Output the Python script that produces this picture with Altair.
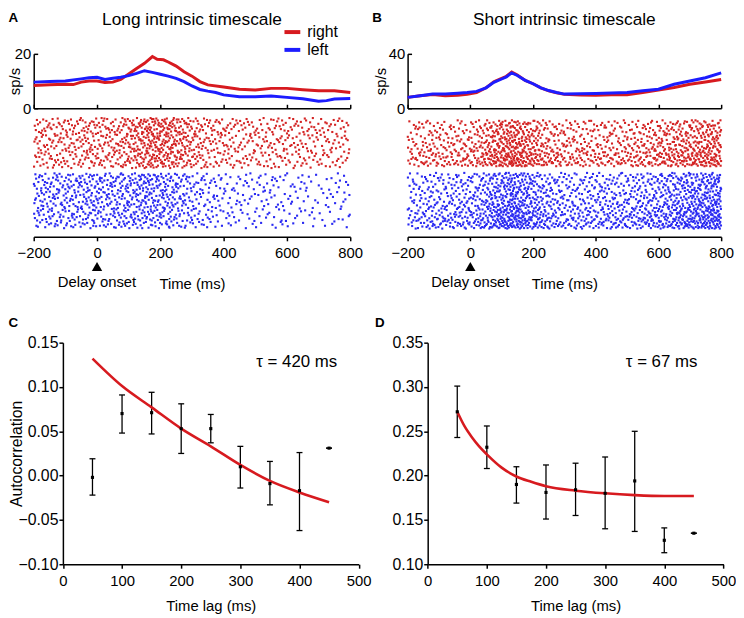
import altair as alt
import pandas as pd
import numpy as np

RED = "#d71a1f"
BLUE = "#1c1cff"
DOT_RED = "#d42424"
DOT_BLUE = "#2a2af2"
FONT = "Liberation Sans"

# ---------------- Panel A: firing rates (sp/s) ----------------
tA_right = [-200, -150, -100, -75, -50, -25, 0, 25, 50, 75, 100, 125, 150, 175, 190, 210, 225,
            250, 275, 300, 325, 350, 400, 450, 500, 550, 600, 650, 700, 750, 800]
rA_right = [8.4, 8.6, 8.8, 8.7, 9.6, 10.0, 10.0, 9.5, 9.6, 10.6, 12.6, 14.6, 16.5, 19.0, 18.0, 17.8, 17.0,
            15.5, 13.4, 11.8, 9.8, 8.6, 7.8, 7.0, 6.7, 7.3, 7.3, 6.8, 6.4, 6.4, 5.8]
tA_left = [-200, -150, -100, -50, -25, 0, 25, 50, 75, 100, 125, 150, 175, 200, 225, 250, 275, 300,
           325, 350, 375, 400, 450, 500, 550, 600, 650, 700, 725, 750, 800]
rA_left = [9.6, 9.8, 10.0, 10.8, 11.2, 11.4, 10.6, 11.0, 11.4, 12.0, 12.8, 13.8, 13.2, 12.5, 11.8, 11.0, 9.8, 8.2,
           6.9, 6.3, 5.8, 4.9, 4.2, 4.2, 4.5, 4.0, 3.5, 2.6, 2.8, 3.4, 3.6]

# ---------------- Panel B: firing rates (sp/s) ----------------
tB = [-200, -160, -120, -80, -40, -10, 20, 50, 75, 100, 115, 132, 150, 175, 200, 225, 250, 275, 300,
      350, 400, 450, 500, 550, 600, 650, 700, 750, 800]
rB_right = [8.0, 9.2, 10.0, 9.2, 9.6, 10.2, 11.6, 15.0, 19.5, 22.0, 23.5, 26.6, 24.5, 20.5, 18.0, 15.0, 12.8, 11.4, 10.2,
            9.8, 9.6, 9.9, 10.0, 11.5, 13.3, 15.2, 17.6, 19.3, 21.2]
rB_left = [8.0, 9.2, 10.4, 10.4, 11.0, 11.6, 12.4, 15.0, 19.0, 21.5, 23.0, 26.0, 24.1, 20.5, 18.0, 15.0, 13.0, 11.6, 10.4,
           10.6, 10.8, 11.2, 11.6, 12.8, 14.0, 17.6, 20.0, 22.4, 26.0]

# ---------------- raster: trials per condition and relative spike density across trials ----------------
trialsA = {"right": 105, "left": 115}
trialsB = {"right": 90, "left": 109}
weightA = {"right": [1.0, 1.05, 1.0, 1.0, 0.95, 0.95], "left": [1.1, 1.05, 1.0, 1.0, 0.95, 0.85]}
weightB = {"right": [0.75, 0.8, 0.85, 1.0, 1.25, 1.45], "left": [0.8, 0.8, 0.85, 1.0, 1.25, 1.35]}
# row layout (in trial units): blank rows above, between and below the two blocks
rowsA = {"top": 6, "gap": 10, "bottom": 17}
rowsB = {"top": 10, "gap": 12, "bottom": 15}

# ---------------- Panel C / D: autocorrelation ----------------
lags = [50, 100, 150, 200, 250, 300, 350, 400, 450]
acC = [-0.002, 0.070, 0.071, 0.053, 0.053, 0.010, -0.009, -0.017, 0.031]
loC = [-0.022, 0.048, 0.047, 0.025, 0.037, -0.014, -0.033, -0.062, 0.031]
hiC = [0.019, 0.091, 0.094, 0.081, 0.069, 0.033, 0.016, 0.026, 0.031]
fitC_t = [50, 100, 150, 200, 250, 300, 350, 400, 450]
fitC = [0.132, 0.101, 0.077, 0.053, 0.033, 0.012, -0.006, -0.019, -0.030]

acD = [0.272, 0.232, 0.190, 0.181, 0.184, 0.180, 0.194, 0.127, 0.135]
loD = [0.243, 0.208, 0.169, 0.151, 0.155, 0.140, 0.137, 0.113, 0.135]
hiD = [0.301, 0.256, 0.210, 0.212, 0.214, 0.221, 0.250, 0.141, 0.135]
fitD_t = [50, 62, 75, 87, 100, 125, 150, 175, 200, 250, 300, 350, 400, 450]
fitD = [0.272, 0.256, 0.243, 0.233, 0.224, 0.209, 0.199, 0.193, 0.188, 0.183, 0.180, 0.178, 0.177, 0.177]


def radical_inverse(i, b):
    f, r = 1.0, 0.0
    while i > 0:
        f /= b
        r += f * (i % b)
        i //= b
    return r


def raster_rows(t, r, n_trials, weights, row0, start):
    """Spike raster whose density follows the rate curve (deterministic low-discrepancy placement)."""
    tg = np.linspace(-200, 800, 2001)
    rg = np.interp(tg, t, r)
    cum = np.concatenate([[0.0], np.cumsum((rg[1:] + rg[:-1]) / 2 * np.diff(tg))]) / 1000.0
    pg = np.linspace(0, 1, 401)
    wg = np.interp(pg, np.linspace(0, 1, len(weights)), weights)
    cw = np.concatenate([[0.0], np.cumsum((wg[1:] + wg[:-1]) / 2 * np.diff(pg))])
    n = int(round(n_trials * cum[-1] * cw[-1]))
    ts, rows = [], []
    for i in range(start, start + n):
        u = radical_inverse(i, 2)
        v = radical_inverse(i, 3)
        ts.append(float(np.interp(u * cum[-1], cum, tg)))
        rows.append(row0 + float(np.floor(np.interp(v * cw[-1], cw, pg) * n_trials)))
    return pd.DataFrame({"t": ts, "row": rows})


XS = alt.Scale(domain=[-200, 800], nice=False, zero=False)
TICKS_T = list(range(-200, 801, 200))
TOP_Y = -42.7


def rate_chart(df, ymax, yvals, label_expr, width, height, title, letter, letter_x, sp_x, with_legend):
    if with_legend:
        color = alt.Color("cond:N", scale=alt.Scale(domain=["right", "left"], range=[RED, BLUE]),
                          legend=alt.Legend(orient="none", legendX=251.5, legendY=-32, title=None,
                                            symbolType="stroke", symbolStrokeWidth=4, symbolSize=256,
                                            labelFontSize=16, labelFont=FONT, padding=0, rowPadding=0,
                                            labelOffset=5, labelColor="black"))
    else:
        color = alt.Color("cond:N", scale=alt.Scale(domain=["right", "left"], range=[RED, BLUE]), legend=None)
    xaxis = alt.Axis(orient="top", offset=-height, values=TICKS_T, labels=False, ticks=True, tickSize=4,
                     domain=True, title=None, grid=False)
    yaxis = alt.Axis(orient="left", values=yvals, ticks=False, tickSize=0, labelPadding=3, labelExpr=label_expr,
                     title="sp/s", titleX=sp_x, titleY=height / 2, titleAngle=270, titleBaseline="alphabetic",
                     titleAlign="center", grid=False)
    ysc = alt.Scale(domain=[0, ymax], nice=False, zero=True)
    base = alt.Chart(df)
    red = base.transform_filter("datum.cond == 'right'").mark_line(strokeWidth=3).encode(
        x=alt.X("t:Q", scale=XS, axis=xaxis), y=alt.Y("rate:Q", scale=ysc, axis=yaxis), color=color)
    blue = base.transform_filter("datum.cond == 'left'").mark_line(strokeWidth=3).encode(
        x=alt.X("t:Q", scale=XS, axis=xaxis), y=alt.Y("rate:Q", scale=ysc, axis=yaxis), color=color)
    lines = alt.layer(red, blue)
    ticks = base.mark_point(opacity=0).encode(
        y=alt.Y("rate:Q", scale=ysc,
                axis=alt.Axis(orient="right", offset=-width, values=yvals, labels=False, domain=False,
                              ticks=True, tickSize=4, title=None, grid=False)))
    ttl = alt.Chart(pd.DataFrame({"s": [title]})).mark_text(
        fontSize=17.5, font=FONT, align="center", baseline="top", color="black").encode(
        text="s:N", x=alt.value(width / 2), y=alt.value(TOP_Y))
    let = alt.Chart(pd.DataFrame({"s": [letter]})).mark_text(
        fontSize=13.5, font=FONT, fontWeight="bold", align="left", baseline="top", color="black").encode(
        text="s:N", x=alt.value(letter_x), y=alt.value(TOP_Y))
    return alt.layer(lines, ticks, ttl, let).resolve_scale(y="independent").properties(width=width, height=height)


def raster_chart(dfr, dfb, n_rows, width, height):
    ys = alt.Scale(domain=[0, n_rows], reverse=True, nice=False, zero=False)
    xaxis = alt.Axis(values=TICKS_T, tickSize=4, labelPadding=5, title="Time (ms)", titlePadding=16,
                     labelFlush=False, labelOverlap=False, grid=False, format="d")
    red = alt.Chart(dfr).mark_square(size=4.5, color=DOT_RED, opacity=1).encode(
        x=alt.X("t:Q", scale=XS, axis=xaxis), y=alt.Y("row:Q", scale=ys, axis=None))
    blue = alt.Chart(dfb).mark_square(size=4.5, color=DOT_BLUE, opacity=1).encode(
        x=alt.X("t:Q", scale=XS, axis=xaxis), y=alt.Y("row:Q", scale=ys, axis=None))
    onset = pd.DataFrame({"t": [0], "s": ["Delay onset"]})
    tri = alt.Chart(onset).mark_point(shape="triangle-up", filled=True, size=110, color="black", opacity=1).encode(
        x=alt.X("t:Q", scale=XS, axis=xaxis), y=alt.value(153))
    txt = alt.Chart(onset).mark_text(fontSize=15, font=FONT, align="center", baseline="middle", color="black").encode(
        x=alt.X("t:Q", scale=XS, axis=xaxis), y=alt.value(168.7), text="s:N")
    return alt.layer(red, blue, tri, txt).properties(width=width, height=height)


def ac_chart(ac, lo, hi, ft, fv, ymin, ymax, ytitle, tau, tau_x, tau_y, letter, letter_x,
             cell_w, x0, plot_w, height):
    df = pd.DataFrame({"lag": lags, "ac": ac, "lo": lo, "hi": hi})
    caps = pd.DataFrame({"lag": lags + lags, "v": lo + hi})
    xs = alt.Scale(domain=[0, 500], nice=False, zero=False, range=[x0, x0 + plot_w])
    ys = alt.Scale(domain=[ymin, ymax], nice=False, zero=False)
    xaxis = alt.Axis(values=list(range(0, 501, 100)), tickSize=4, labelPadding=5, title="Time lag (ms)",
                     titlePadding=11, labelFlush=False, labelOverlap=False, grid=False)
    yvals = [round(ymin + 0.05 * k, 2) for k in range(6)]
    common = dict(values=yvals, format=".2f", tickSize=4, labelPadding=1, labelFontSize=16,
                  labelFlush=False, labelOverlap=False, grid=False, offset=-x0)
    if ytitle:
        yaxis = alt.Axis(title=ytitle, titleX=-42, titleY=height / 2, titleAngle=270, titleFontSize=16,
                         titleBaseline="alphabetic", titleAlign="center", **common)
    else:
        yaxis = alt.Axis(title=None, **common)
    bars = alt.Chart(df).mark_rule(color="black", strokeWidth=1.3).encode(
        x=alt.X("lag:Q", scale=xs, axis=xaxis), y=alt.Y("lo:Q", scale=ys, axis=yaxis), y2="hi:Q")
    capm = alt.Chart(caps).mark_tick(orient="horizontal", size=6, thickness=1.3, color="black", opacity=1).encode(
        x=alt.X("lag:Q", scale=xs, axis=xaxis), y=alt.Y("v:Q", scale=ys, axis=yaxis))
    fit = alt.Chart(pd.DataFrame({"lag": ft, "v": fv})).mark_line(
        color=RED, strokeWidth=2.6, interpolate="monotone").encode(
        x=alt.X("lag:Q", scale=xs, axis=xaxis), y=alt.Y("v:Q", scale=ys, axis=yaxis))
    pts = alt.Chart(df).mark_square(size=10, color="black", opacity=1).encode(
        x=alt.X("lag:Q", scale=xs, axis=xaxis), y=alt.Y("ac:Q", scale=ys, axis=yaxis))
    tau_t = alt.Chart(pd.DataFrame({"lag": [tau_x], "v": [tau_y], "s": [tau]})).mark_text(
        fontSize=17, font=FONT, align="left", baseline="middle", color="black").encode(
        x=alt.X("lag:Q", scale=xs, axis=xaxis), y=alt.Y("v:Q", scale=ys, axis=yaxis), text="s:N")
    let = alt.Chart(pd.DataFrame({"s": [letter]})).mark_text(
        fontSize=13.5, font=FONT, fontWeight="bold", align="left", baseline="top", color="black").encode(
        text="s:N", x=alt.value(letter_x), y=alt.value(-27))
    return alt.layer(bars, capm, fit, pts, tau_t, let).properties(width=cell_w, height=height)


# ---------- build data frames ----------
dfA = pd.concat([pd.DataFrame({"t": tA_right, "rate": rA_right, "cond": "right"}),
                 pd.DataFrame({"t": tA_left, "rate": rA_left, "cond": "left"})], ignore_index=True)
dfB = pd.concat([pd.DataFrame({"t": tB, "rate": rB_right, "cond": "right"}),
                 pd.DataFrame({"t": tB, "rate": rB_left, "cond": "left"})], ignore_index=True)

nA = rowsA["top"] + trialsA["right"] + rowsA["gap"] + trialsA["left"] + rowsA["bottom"]
nB = rowsB["top"] + trialsB["right"] + rowsB["gap"] + trialsB["left"] + rowsB["bottom"]
rasA_r = raster_rows(tA_right, rA_right, trialsA["right"], weightA["right"], rowsA["top"], 1)
rasA_l = raster_rows(tA_left, rA_left, trialsA["left"], weightA["left"],
                     rowsA["top"] + trialsA["right"] + rowsA["gap"], 3001)
rasB_r = raster_rows(tB, rB_right, trialsB["right"], weightB["right"], rowsB["top"], 6001)
rasB_l = raster_rows(tB, rB_left, trialsB["left"], weightB["left"],
                     rowsB["top"] + trialsB["right"] + rowsB["gap"], 9001)

WA, WB, HR, HS, HC = 320, 317, 55, 123, 224
rateA = rate_chart(dfA, 20, [0, 20], "datum.label", WA, HR, "Long intrinsic timescale", "A", -25.5, -14, True)
rateB = rate_chart(dfB, 40, [0, 20, 40], "datum.value == 20 ? '' : datum.label", WB, HR,
                   "Short intrinsic timescale", "B", -35.7, -22.5, False)
rasterA = raster_chart(rasA_r, rasA_l, nA, WA, HS)
rasterB = raster_chart(rasB_r, rasB_l, nB, WB, HS)


def spacer(w, h):
    return alt.Chart(pd.DataFrame({"s": [0]})).mark_point(opacity=0).encode(
        x=alt.value(w / 2), y=alt.value(h / 2)).properties(width=w, height=h)


C = ac_chart(acC, loC, hiC, fitC_t, fitC, -0.10, 0.15, "Autocorrelation", "τ = 420 ms", 327, 0.1277,
             "C", -25.5, WA, 29.5, 299, HC)
D = ac_chart(acD, loD, hiD, fitD_t, fitD, 0.10, 0.35, None, "τ = 67 ms", 335, 0.3277,
             "D", -33, WB, 20.3, 299, HC)

chart = alt.concat(rateA, rateB, rasterA, rasterB, spacer(WA, 93), spacer(WB, 93), C, D,
                   columns=2, spacing=alt.RowColnumber(row=7, column=58), bounds="flush").properties(
    padding=0).configure_view(stroke=None).configure_axis(
    domainColor="black", domainWidth=1.5, tickColor="black", tickWidth=1.5, labelColor="black",
    titleColor="black", labelFont=FONT, titleFont=FONT, labelFontSize=15, titleFontSize=15,
    titleFontWeight="normal", grid=False).configure_text(font=FONT)

chart.save("out.html", embed_options={"renderer": "svg", "actions": False})
